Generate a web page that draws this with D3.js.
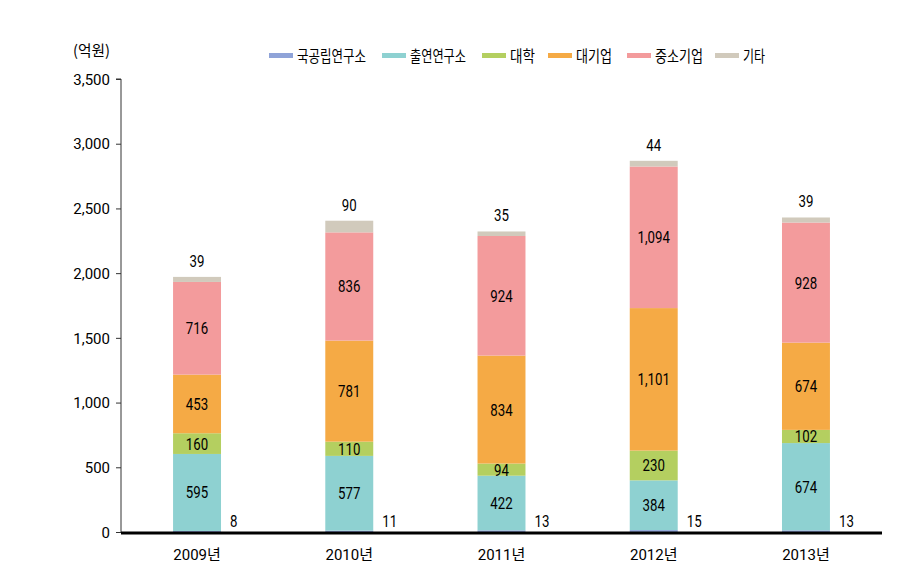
<!DOCTYPE html>
<html><head><meta charset="utf-8">
<script src="https://cdn.jsdelivr.net/npm/d3@7"></script>
<style>
body{margin:0;background:#fff;}
text{font-family:Roboto,"Noto Sans CJK KR",sans-serif;fill:#000;}
.kr{font-family:"Noto Sans CJK KR",Roboto,sans-serif;}
</style></head>
<body><svg id="c" width="909" height="567"></svg>
<script>
const categories = ["2009년","2010년","2011년","2012년","2013년"];
const seriesNames = ["국공립연구소","출연연구소","대학","대기업","중소기업","기타"];
const s국공립 = [8,11,13,15,13];
const s출연 = [595,577,422,384,674];
const s대학 = [160,110,94,230,102];
const s대기업 = [453,781,834,1101,674];
const s중소 = [716,836,924,1094,928];
const s기타 = [39,90,35,44,39];
const yTicks = [0,500,1000,1500,2000,2500,3000,3500];
const colors = ["#8fa3d8","#8ed1d1","#b4cf60","#f5aa45","#f39b9c","#d1cabc"];

const seriesVals = [s국공립,s출연,s대학,s대기업,s중소,s기타];
const rows = categories.map((c,i)=>{const r={cat:c}; seriesNames.forEach((n,j)=>r[n]=seriesVals[j][i]); return r;});
const stack = d3.stack().keys(seriesNames)(rows);

const svg = d3.select("#c");
const x0=121, x1=882, yTop=79, yBot=532;
const x = d3.scaleBand().domain(categories).range([x0,x1]).paddingInner(0.685).paddingOuter(0.342);
const y = d3.scaleLinear().domain([0,3500]).range([yBot,yTop]);
const fmt = d3.format(",");

// y axis
const ya = svg.append("g").attr("transform",`translate(${x0},0)`)
  .call(d3.axisLeft(y).tickValues(yTicks).tickFormat(fmt).tickSize(5).tickPadding(6));
ya.select(".domain").attr("stroke","#333").attr("d",`M-5,${yTop}H0V${yBot}`);
ya.selectAll(".tick line").attr("stroke","#333");
ya.selectAll(".tick text").attr("font-size",15).attr("fill","#000").attr("dy","0.35em")
  .style("font-family","Roboto,sans-serif");

svg.append("text").attr("class","kr").attr("x",73).attr("y",56)
  .attr("font-size",15).attr("textLength",37).attr("lengthAdjust","spacingAndGlyphs").attr("fill","#333").text("(억원)");

// bars
svg.append("g").selectAll("g").data(stack).join("g").attr("fill",(d,i)=>colors[i])
  .selectAll("rect").data(d=>d).join("rect")
  .attr("x",d=>x(d.data.cat)).attr("width",x.bandwidth())
  .attr("y",d=>y(d[1])).attr("height",d=>y(d[0])-y(d[1]));

// baseline
svg.append("line").attr("x1",x0).attr("x2",x1).attr("y1",yBot+1).attr("y2",yBot+1)
  .attr("stroke","#000").attr("stroke-width",3);

// labels
const lab = svg.append("g").attr("font-size",17);
function addLabel(px,py,txt,anchor){
  lab.append("text").attr("transform",`translate(${px},${py}) scale(0.78,1)`)
    .attr("text-anchor",anchor).text(txt);
}
[1,2,3,4].forEach(k=>{
  stack[k].forEach(d=>{
    addLabel(x(d.data.cat)+x.bandwidth()/2,(y(d[0])+y(d[1]))/2+6,fmt(d[1]-d[0]),"middle");
  });
});
stack[5].forEach(d=>{
  addLabel(x(d.data.cat)+x.bandwidth()/2,y(d[1])-10,fmt(d[1]-d[0]),"middle");
});
stack[0].forEach(d=>{
  addLabel(x(d.data.cat)+x.bandwidth()+9,y(0)-5,fmt(d[1]-d[0]),"start");
});

// x labels
svg.append("g").selectAll("text").data(categories).join("text")
  .attr("x",d=>x(d)+x.bandwidth()/2).attr("y",560).attr("text-anchor","middle")
  .attr("font-size",15).text(d=>d);

// legend
const legX = [269,382,482,548,627,715];
const legW = [69,56,25,36,48,22];
const lg = svg.append("g");
seriesNames.forEach((n,i)=>{
  lg.append("rect").attr("x",legX[i]).attr("y",53).attr("width",24).attr("height",5).attr("fill",colors[i]);
  lg.append("text").attr("class","kr").attr("x",legX[i]+28).attr("y",62).attr("font-size",16)
    .attr("textLength",legW[i]).attr("lengthAdjust","spacingAndGlyphs").attr("fill","#333").text(n);
});
</script></body></html>
